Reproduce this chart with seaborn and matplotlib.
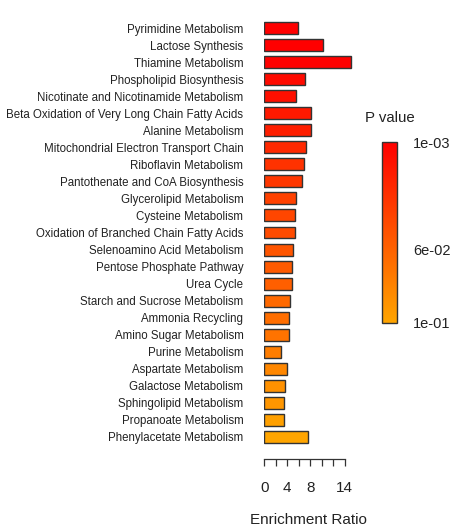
import numpy as np
import pandas as pd
import matplotlib
matplotlib.use("Agg")
import matplotlib.pyplot as plt
import seaborn as sns
from matplotlib.colors import LinearSegmentedColormap, Normalize
from matplotlib.cm import ScalarMappable

pathways = [
    "Pyrimidine Metabolism",
    "Lactose Synthesis",
    "Thiamine Metabolism",
    "Phospholipid Biosynthesis",
    "Nicotinate and Nicotinamide Metabolism",
    "Beta Oxidation of Very Long Chain Fatty Acids",
    "Alanine Metabolism",
    "Mitochondrial Electron Transport Chain",
    "Riboflavin Metabolism",
    "Pantothenate and CoA Biosynthesis",
    "Glycerolipid Metabolism",
    "Cysteine Metabolism",
    "Oxidation of Branched Chain Fatty Acids",
    "Selenoamino Acid Metabolism",
    "Pentose Phosphate Pathway",
    "Urea Cycle",
    "Starch and Sucrose Metabolism",
    "Ammonia Recycling",
    "Amino Sugar Metabolism",
    "Purine Metabolism",
    "Aspartate Metabolism",
    "Galactose Metabolism",
    "Sphingolipid Metabolism",
    "Propanoate Metabolism",
    "Phenylacetate Metabolism",
]
enrichment_ratio = [5.86, 10.3, 15.1, 7.07, 5.6, 8.06, 8.06, 7.25, 6.84, 6.55,
                    5.5, 5.28, 5.33, 4.93, 4.81, 4.75, 4.46, 4.35, 4.23, 2.84,
                    3.94, 3.65, 3.48, 3.36, 7.6]
p_values = [0.0010, 0.0012, 0.0014, 0.007, 0.010, 0.016, 0.019, 0.025, 0.031, 0.034,
            0.040, 0.043, 0.046, 0.052, 0.055, 0.058, 0.064, 0.067, 0.070, 0.076,
            0.082, 0.088, 0.091, 0.097, 0.100]
x_ticks = [0, 2, 4, 6, 8, 10, 12, 14]
x_tick_labels = ["0", "", "4", "", "8", "", "", "14"]
cbar_ticks = [0.001, 0.06, 0.1]
cbar_tick_labels = ["1e-03", "6e-02", "1e-01"]

df = pd.DataFrame({"pathway": pathways, "ratio": enrichment_ratio, "p": p_values})

sns.set_theme(style="white")
plt.rcParams["font.family"] = ["Liberation Sans", "DejaVu Sans"]
text_color = "#222222"

cmap = LinearSegmentedColormap.from_list("red_orange", ["#FF0000", "#FFA500"])
norm = Normalize(vmin=min(p_values), vmax=max(p_values))
palette = {name: cmap(norm(p)) for name, p in zip(pathways, p_values)}

fig = plt.figure(figsize=(4.54, 5.31), dpi=100)
ax = fig.add_axes([264.3 / 454, 85.5 / 531, 89 / 454, 426 / 531])

sns.barplot(data=df, x="ratio", y="pathway", hue="pathway", palette=palette,
            legend=False, width=0.7, saturation=1, edgecolor="#333333",
            linewidth=1.0, orient="h", ax=ax)

ax.set_xlim(0, 15.5)
ax.set_ylim(len(pathways) - 0.5, -0.5)
for side in ["top", "right", "left"]:
    ax.spines[side].set_visible(False)
ax.spines["bottom"].set_position(("outward", 9.7))
ax.spines["bottom"].set_bounds(0, 14)
ax.spines["bottom"].set_color("#333333")
ax.spines["bottom"].set_linewidth(0.9)

ax.set_xticks(x_ticks)
ax.set_xticklabels(x_tick_labels)
ax.tick_params(axis="x", direction="out", length=5, width=0.9, color="#333333",
               pad=11, labelsize=11, labelcolor=text_color, bottom=True)
ax.tick_params(axis="y", length=0, pad=15, labelsize=8.3, labelcolor=text_color)
ax.set_ylabel("")
ax.set_xlabel("Enrichment Ratio", fontsize=11, color=text_color, labelpad=13)

# colour key for the p values
cax = fig.add_axes([382 / 454, 208 / 531, 15 / 454, 181 / 531])
sm = ScalarMappable(norm=norm, cmap=cmap)
cb = fig.colorbar(sm, cax=cax)
cb.set_ticks(cbar_ticks)
cb.set_ticklabels(cbar_tick_labels)
cb.ax.invert_yaxis()
cb.ax.tick_params(length=0, pad=11.5, labelsize=10.5, labelcolor=text_color)
cb.outline.set_edgecolor("#333333")
cb.outline.set_linewidth(1.0)
fig.text(389.5 / 454, 1 - 118 / 531, "P value", ha="center", va="center",
         fontsize=10.8, color=text_color)

fig.savefig("out.png", dpi=100)
